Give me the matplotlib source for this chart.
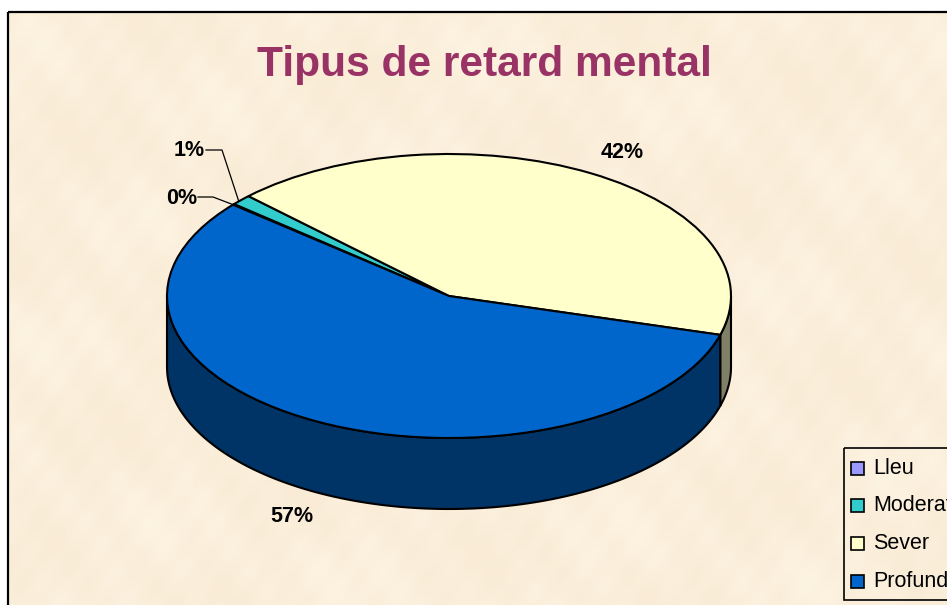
import numpy as np
import matplotlib
matplotlib.use("Agg")
import matplotlib.pyplot as plt
from matplotlib.patches import Rectangle

W, H = 947, 605

categories = ["Lleu", "Moderat", "Sever", "Profund"]
values = [0.1, 1.2, 42.0, 56.7]
value_labels = ["0%", "1%", "42%", "57%"]
top_colors = ["#9999FF", "#33CCCC", "#FFFFCC", "#0066CC"]
side_colors = ["#4D4D80", "#1A6666", "#808066", "#003366"]

fig = plt.figure(figsize=(W / 100, H / 100), dpi=100, facecolor="white")
plt.rcParams["font.family"] = ["Liberation Sans", "DejaVu Sans"]

# pixel axes for the background, title, labels and legend
bg = fig.add_axes([0, 0, 1, 1])
bg.set_xlim(0, W)
bg.set_ylim(H, 0)
bg.axis("off")

# parchment look, soft waves only
yy, xx = np.mgrid[12:H, 8:W]
tex = (np.sin(xx / 37.0 + yy / 53.0) * 0.6 + np.sin(xx / 11.0 - yy / 17.0) * 0.6
       + np.sin(xx / 5.3 + yy / 7.1) * 0.4 + np.sin(yy / 23.0 - xx / 71.0) * 0.6)
tex = tex / np.abs(tex).max()
img = np.zeros(tex.shape + (3,))
base = np.array([251, 239, 219]) / 255.0
for i in range(3):
    img[:, :, i] = base[i] + tex * 0.008 * (i + 1)
bg.imshow(np.clip(img, 0, 1), extent=(8, W, H, 12), aspect="auto", zorder=0)
bg.set_xlim(0, W)
bg.set_ylim(H, 0)
bg.add_patch(Rectangle((8, 12), W + 20, H, fill=False, ec="black", lw=1.6, zorder=1))

bg.text(484.5, 65, "Tipus de retard mental", color="#993366", fontsize=30.6,
        fontweight="bold", ha="center", va="center", zorder=3)

# pie: one unit of y is the top ellipse half height
cx, cy, rx, ry, depth = 449, 296, 282, 142, 71
pie_ax = fig.add_axes([(cx - rx) / W, 1 - (cy + ry + depth) / H,
                       2 * rx / W, (2 * ry + depth) / H], zorder=2)
pie_ax.patch.set_alpha(0)
wedges, _ = pie_ax.pie(values, startangle=140, counterclock=False, colors=top_colors,
                       radius=1.0, wedgeprops={"edgecolor": "black", "linewidth": 1.5, "zorder": 5})
pie_ax.set_aspect("auto")
d = depth / ry
pie_ax.set_xlim(-1, 1)
pie_ax.set_ylim(-1 - d, 1)
pie_ax.axis("off")

# outer wall below each wedge, only for the front half of the ellipse
for w, col in zip(wedges, side_colors):
    for shift in (0, -360, 360):
        a1 = max(w.theta1 + shift, -180)
        a2 = min(w.theta2 + shift, 0)
        if a2 <= a1:
            continue
        t = np.radians(np.linspace(a1, a2, 120))
        px = np.r_[np.cos(t), np.cos(t[::-1])]
        py = np.r_[np.sin(t), np.sin(t[::-1]) - d]
        pie_ax.fill(px, py, facecolor=col, edgecolor="black", lw=1.5, zorder=2, clip_on=False)

# value labels with leader lines
lab = {"fontsize": 15.5, "fontweight": "bold", "va": "center", "zorder": 3}
bg.text(205, 151, value_labels[1], ha="right", **lab)
bg.text(197, 198, value_labels[0], ha="right", **lab)
bg.text(622, 153, value_labels[2], ha="center", **lab)
bg.text(292, 517, value_labels[3], ha="center", **lab)
bg.plot([206, 222, 239], [150, 150, 202], color="black", lw=0.9, zorder=3)
bg.plot([198, 213, 234], [197, 197, 205], color="black", lw=0.9, zorder=3)

# legend runs off the picture on the right and bottom
bg.add_patch(Rectangle((844, 448), W, 152, fc="none", ec="black", lw=1.2, zorder=3))
for name, col, y in zip(categories, top_colors, [467.5, 505, 543, 581]):
    bg.add_patch(Rectangle((851, y - 6), 13, 13, fc=col, ec="black", lw=1.2, zorder=3))
    bg.text(873, y + 0.5, name, fontsize=15.5, ha="left", va="center", zorder=3, clip_on=True)

fig.savefig("out.png", dpi=100)
